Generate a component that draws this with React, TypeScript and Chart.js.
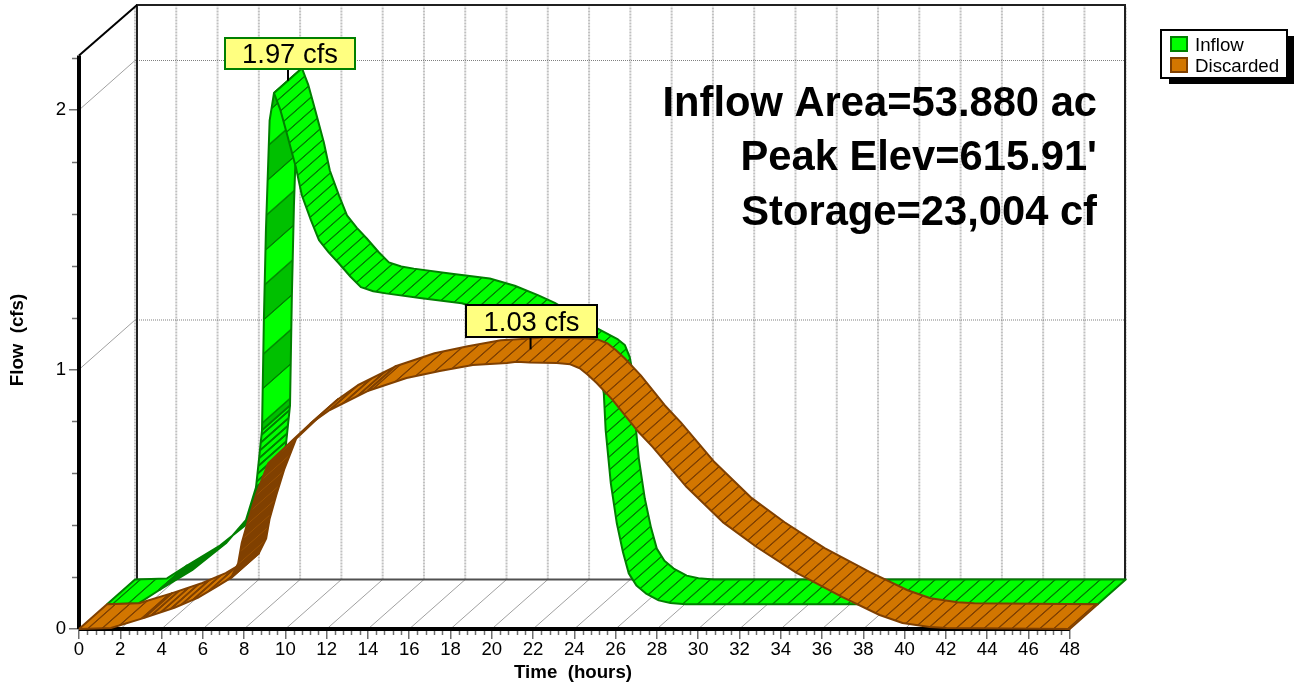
import React, { useEffect, useRef } from "react";
import { Chart, registerables } from "chart.js";

Chart.register(...registerables);

const inflowT = [0, 1.55, 2.52, 4.12, 5.76, 6.73, 7.22, 7.36, 7.51, 7.6, 7.7, 7.88, 8.09, 8.4, 8.67, 9.15, 9.44, 9.88, 10.27, 10.75, 11.23, 11.8, 12.3, 12.9, 13.51, 15.25, 17.19, 18.4, 19.52, 20.34, 22.28, 23.4, 23.73, 23.97, 24.07, 24.16, 24.41, 24.7, 25.0, 25.28, 25.65, 26.1, 26.73, 27.3, 28.04, 48];
const inflowQ = [0, 0.004, 0.054, 0.131, 0.235, 0.324, 0.451, 0.555, 0.671, 1.094, 1.441, 1.865, 1.97, 1.905, 1.827, 1.684, 1.576, 1.48, 1.403, 1.355, 1.314, 1.262, 1.222, 1.206, 1.198, 1.179, 1.16, 1.132, 1.096, 1.066, 0.973, 0.925, 0.904, 0.857, 0.813, 0.671, 0.466, 0.312, 0.2, 0.119, 0.072, 0.042, 0.015, 0.005, 0, 0];
const discardedT = [0, 1.55, 3.16, 4.62, 5.75, 6.67, 7.36, 7.71, 7.88, 8.2, 8.6, 9.17, 10.36, 11.19, 12.15, 13.98, 15.87, 17.48, 19.08, 20.73, 21.2, 21.84, 23.15, 23.8, 24.26, 24.65, 25.08, 25.86, 27.02, 27.8, 29.44, 31.19, 32.83, 34.77, 36.99, 38.79, 39.9, 41.21, 42.03, 48];
const discardedQ = [0, 0.004, 0.043, 0.082, 0.12, 0.163, 0.197, 0.253, 0.33, 0.42, 0.523, 0.639, 0.728, 0.79, 0.844, 0.917, 0.967, 0.994, 1.017, 1.025, 1.03, 1.027, 1.025, 1.02, 1.005, 0.98, 0.948, 0.882, 0.767, 0.701, 0.547, 0.412, 0.316, 0.216, 0.123, 0.054, 0.023, 0.008, 0.004, 0];

const xMajor = [0, 2, 4, 6, 8, 10, 12, 14, 16, 18, 20, 22, 24, 26, 28, 30, 32, 34, 36, 38, 40, 42, 44, 46, 48];
const yMajor = [0, 1, 2];
const yMinor = [0.2, 0.4, 0.6, 0.8, 1.2, 1.4, 1.6, 1.8, 2.2];
const xMinorStep = 0.4;

const legendNames = ["Inflow", "Discarded"];
const peakLabels = ["1.97 cfs", "1.03 cfs"];
const peakT = [8.09, 21.2];
const peakQ = [1.97, 1.03];
const infoLines = ["Inflow Area=53.880 ac", "Peak Elev=615.91'", "Storage=23,004 cf"];

const FONT = '"Liberation Sans", Arial, sans-serif';
const GREEN = "#00ff00";
const GREEN_DK = "#008000";
const GREEN_MID = "#00c000";
const ORANGE = "#d27600";
const BROWN = "#804000";

const DX = 28 / 20.64;
const DY = 24.75 / 259.5;
const WALL_L = 58 / 20.64;
const WALL_R = 1046 / 20.64;
const YTOP = 2.405;
const YAXIS_TOP = 2.21;
const SLANT = 28 / 24.75;

function stripes(period: number, width: number, bg: string, fg: string, e = 0) {
  const tile = document.createElement("canvas");
  tile.width = period;
  tile.height = 4;
  const c = tile.getContext("2d")!;
  c.fillStyle = bg;
  c.fillRect(0, 0, period, 4);
  c.fillStyle = fg;
  c.fillRect(0, 0, width, 4);
  const p = c.createPattern(tile, "repeat")!;
  p.setTransform(new DOMMatrix([1, 0, -SLANT, 1, e, 0]));
  return p;
}

function bands(period: number, bg: string, fg: string, line: string, e = 0) {
  const tile = document.createElement("canvas");
  tile.width = period;
  tile.height = 4;
  const c = tile.getContext("2d")!;
  c.fillStyle = bg;
  c.fillRect(0, 0, period, 4);
  c.fillStyle = fg;
  c.fillRect(period / 2, 0, period / 2, 4);
  c.fillStyle = line;
  c.fillRect(0, 0, 2, 4);
  c.fillRect(period / 2, 0, 2, 4);
  const p = c.createPattern(tile, "repeat")!;
  p.setTransform(new DOMMatrix([1, 0, -SLANT, 1, e, 0]));
  return p;
}

function ribbon(ts: number[], qs: number[], from: number, to: number, z0: number, z1: number) {
  const pts: { x: number; y: number }[] = [];
  for (let i = from; i <= to; i++) pts.push({ x: ts[i] + z0 * DX, y: qs[i] + z0 * DY });
  for (let i = to; i >= from; i--) pts.push({ x: ts[i] + z1 * DX, y: qs[i] + z1 * DY });
  pts.push(pts[0]);
  return pts;
}

function seg(points: { x: number; y: number }[], color: string, width: number, dash: number[] = []) {
  return { data: points, borderColor: color, borderWidth: width, borderDash: dash, showLine: true, pointRadius: 0, fill: false, clip: false as const };
}

function area(points: { x: number; y: number }[], fillStyle: any, color: string, width = 2) {
  return { data: points, backgroundColor: fillStyle, borderColor: color, borderWidth: width, borderJoinStyle: "round", showLine: true, pointRadius: 0, fill: "shape", clip: false as const };
}

const overlay = {
  id: "overlay",
  afterDatasetsDraw(chart: any) {
    const { ctx, scales } = chart;
    const sx = scales.x;
    const sy = scales.y;
    ctx.save();
    ctx.strokeStyle = "#707070";
    ctx.lineWidth = 1.5;
    ctx.beginPath();
    for (let i = 0; i * xMinorStep <= 48.01; i++) {
      const v = i * xMinorStep;
      if (i % 5 === 0) continue;
      const px = Math.round(sx.getPixelForValue(v)) + 0.5;
      ctx.moveTo(px, sy.getPixelForValue(0) + 2);
      ctx.lineTo(px, sy.getPixelForValue(0) + 6);
    }
    for (const v of yMinor) {
      const py = Math.round(sy.getPixelForValue(v)) + 0.5;
      ctx.moveTo(sx.getPixelForValue(0) - 2, py);
      ctx.lineTo(sx.getPixelForValue(0) - 7, py);
    }
    ctx.stroke();

    ctx.fillStyle = "#000";
    ctx.font = `bold 18.7px ${FONT}`;
    ctx.textAlign = "center";
    ctx.textBaseline = "alphabetic";
    ctx.fillText("Time  (hours)", 573, 678);
    ctx.save();
    ctx.translate(23, 340);
    ctx.rotate(-Math.PI / 2);
    ctx.fillText("Flow  (cfs)", 0, 0);
    ctx.restore();

    ctx.font = `bold 41.7px ${FONT}`;
    ctx.textAlign = "right";
    const lineY = [116, 170, 225];
    infoLines.forEach((t, i) => ctx.fillText(t, 1097, lineY[i]));

    const depth = [1.5, 0.5];
    const boxes = [
      { x: 225, y: 38, w: 130, h: 31, edge: GREEN_DK },
      { x: 466, y: 305, w: 131, h: 32, edge: "#000" },
    ];
    peakLabels.forEach((t, i) => {
      const b = boxes[i];
      const ax = sx.getPixelForValue(peakT[i] + depth[i] * DX);
      const ay = sy.getPixelForValue(peakQ[i] + depth[i] * DY);
      ctx.strokeStyle = "#000";
      ctx.lineWidth = 2;
      ctx.beginPath();
      ctx.moveTo(ax, b.y + b.h);
      ctx.lineTo(ax, ay);
      ctx.stroke();
      ctx.fillStyle = "#ffff80";
      ctx.fillRect(b.x, b.y, b.w, b.h);
      ctx.strokeStyle = b.edge;
      ctx.strokeRect(b.x, b.y, b.w, b.h);
      ctx.fillStyle = "#000";
      ctx.font = `27.4px ${FONT}`;
      ctx.textAlign = "center";
      ctx.fillText(t, b.x + b.w / 2, b.y + b.h - 6);
    });

    ctx.fillStyle = "#000";
    ctx.fillRect(1169, 36, 125, 48);
    ctx.fillStyle = "#fff";
    ctx.fillRect(1161, 30, 126, 48);
    ctx.strokeStyle = "#000";
    ctx.lineWidth = 2;
    ctx.strokeRect(1161, 30, 126, 48);
    const swatchFill = [GREEN, ORANGE];
    const swatchEdge = [GREEN_DK, BROWN];
    legendNames.forEach((name, i) => {
      const y = 37 + i * 21;
      ctx.fillStyle = swatchFill[i];
      ctx.fillRect(1171, y, 16, 14);
      ctx.strokeStyle = swatchEdge[i];
      ctx.strokeRect(1171, y, 16, 14);
      ctx.fillStyle = "#000";
      ctx.font = `18.7px ${FONT}`;
      ctx.textAlign = "left";
      ctx.fillText(name, 1195, y + 14);
    });
    ctx.restore();
  },
};

export default function App() {
  const ref = useRef<HTMLCanvasElement>(null);
  useEffect(() => {
    document.body.style.margin = "0";
    const hatchG = stripes(15, 2, GREEN, GREEN_DK);
    const fineG = stripes(8, 3, GREEN, GREEN_DK);
    const wideG = bands(77, GREEN, GREEN_MID, GREEN_DK, 547.4);
    const hatchB = stripes(14, 2, ORANGE, BROWN);
    const denseB = stripes(6, 3, ORANGE, BROWN);
    const darkB = stripes(12, 1, BROWN, "#9a5000");

    const ds: any[] = [];
    for (const t of xMajor) {
      ds.push(seg([{ x: t + 2 * DX, y: 2 * DY }, { x: t + 2 * DX, y: YTOP - 0.005 }], "#c0c0c0", 2, [2, 1]));
    }
    for (const v of yMajor.slice(1)) {
      ds.push(seg([{ x: 0, y: v }, { x: 2 * DX, y: v + 2 * DY }], "#a0a0a0", 1));
      ds.push(seg([{ x: 2 * DX, y: v + 2 * DY }, { x: WALL_R, y: v + 2 * DY }], "#808080", 1, [1, 1]));
    }
    for (const t of xMajor.slice(1, -1)) {
      ds.push(seg([{ x: t, y: 0 }, { x: t + 2 * DX, y: 2 * DY }], "#a0a0a0", 1));
    }
    ds.push(seg([{ x: WALL_L, y: 2 * DY }, { x: WALL_R, y: 2 * DY }], "#505050", 2));
    ds.push(seg([{ x: WALL_L, y: 2 * DY }, { x: WALL_L, y: YTOP }, { x: WALL_R, y: YTOP }, { x: WALL_R, y: 2 * DY }], "#202020", 2));
    ds.push(seg([{ x: 0, y: YAXIS_TOP }, { x: WALL_L, y: YTOP }], "#000", 2));
    ds.push(seg([{ x: 0, y: 0 }, { x: 48, y: 0 }], "#000", 4));
    ds.push(seg([{ x: 0, y: 0 }, { x: 0, y: YAXIS_TOP }], "#000", 4));

    const iPeak = inflowQ.indexOf(Math.max(...inflowQ));
    const I = (from: number, to: number) => ribbon(inflowT, inflowQ, from, to, 1, 2);
    ds.push(area(I(0, 2), hatchG, GREEN_DK));
    ds.push(area(I(2, 6), GREEN_DK, GREEN_DK));
    ds.push(area(I(6, 8), fineG, GREEN_DK));
    ds.push(area(I(8, iPeak), wideG, GREEN_DK));
    ds.push(area(I(iPeak, inflowT.length - 1), hatchG, GREEN_DK));

    const D = (from: number, to: number) => ribbon(discardedT, discardedQ, from, to, 0, 1);
    ds.push(area(D(0, 2), hatchB, BROWN));
    ds.push(area(D(2, 6), denseB, BROWN));
    ds.push(area(D(6, 13), darkB, BROWN));
    ds.push(area(D(13, 15), denseB, BROWN));
    ds.push(area(D(15, discardedT.length - 1), hatchB, BROWN));

    ds.forEach((d, i) => (d.order = -i));

    const chart = new Chart(ref.current!, {
      type: "scatter",
      data: { datasets: ds },
      plugins: [overlay],
      options: {
        animation: false,
        responsive: false,
        events: [],
        layout: { padding: { top: 6, right: 165, left: 0, bottom: 0 } },
        plugins: { legend: { display: false }, tooltip: { enabled: false } },
        elements: { line: { tension: 0 } },
        scales: {
          x: {
            type: "linear",
            min: 0,
            max: 1050 / 20.64,
            afterFit: (s: any) => { s.height = 57; },
            afterBuildTicks: (s: any) => { s.ticks = xMajor.map((value) => ({ value })); },
            border: { display: false },
            grid: { drawOnChartArea: false, drawTicks: true, tickLength: 10, color: "#707070", lineWidth: 1.5 },
            ticks: { color: "#000", font: { family: FONT, size: 18.6 }, padding: 0, maxRotation: 0, autoSkip: false },
          },
          y: {
            type: "linear",
            min: 0,
            max: (629 - 6) / 259.5,
            afterFit: (s: any) => { s.width = 79; s.paddingTop = 0; s.paddingBottom = 0; },
            afterBuildTicks: (s: any) => { s.ticks = yMajor.map((value) => ({ value })); },
            border: { display: false },
            grid: { drawOnChartArea: false, drawTicks: true, tickLength: 10, color: "#707070", lineWidth: 1.5 },
            ticks: { color: "#000", font: { family: FONT, size: 18.6 }, padding: 3 },
          },
        },
      } as any,
    });
    return () => chart.destroy();
  }, []);
  return <canvas ref={ref} width={1294} height={686} style={{ position: "absolute", left: 0, top: 0 }} />;
}
